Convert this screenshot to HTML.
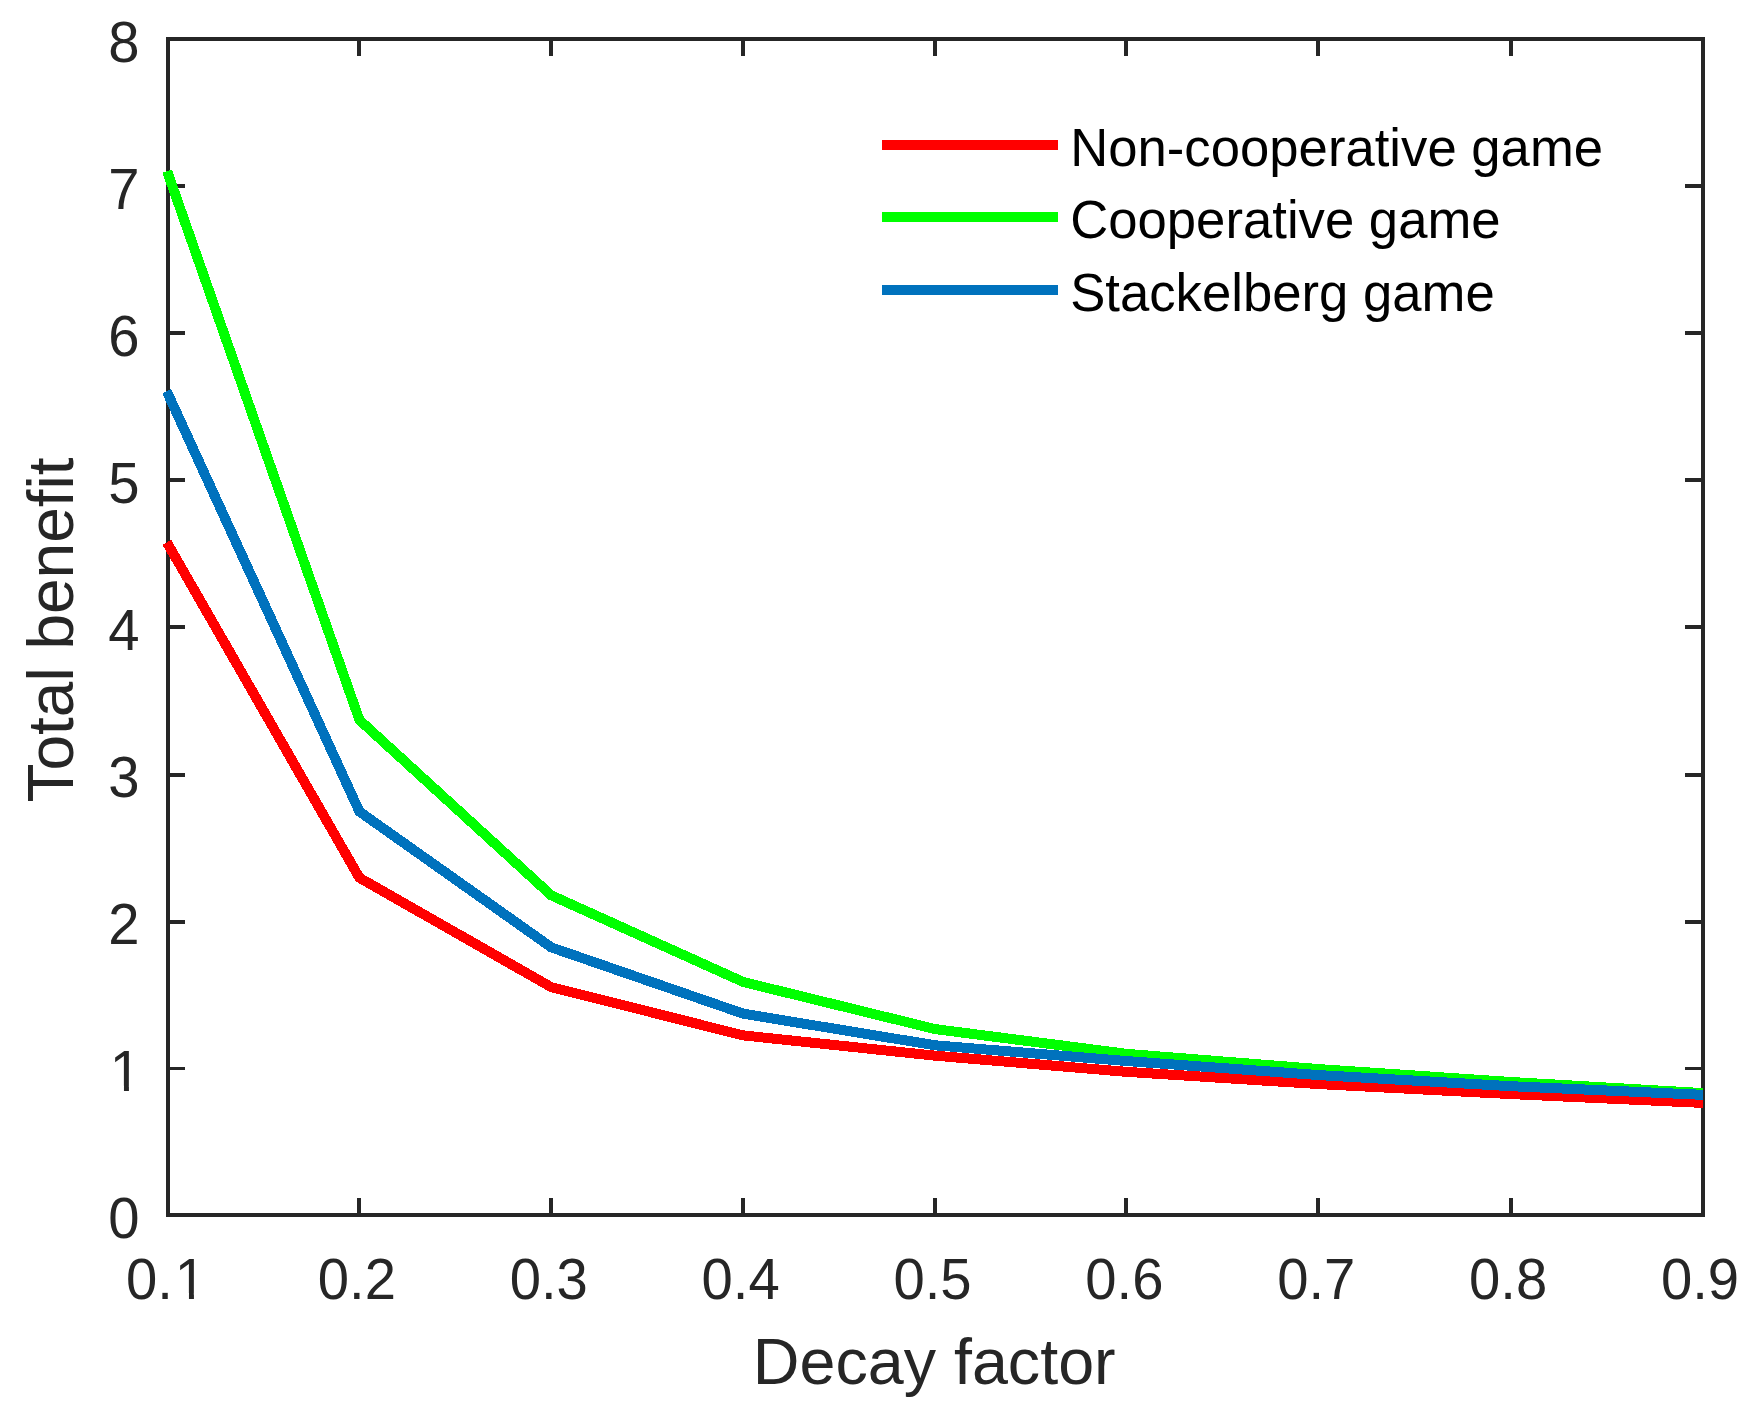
<!DOCTYPE html>
<html lang="en"><head><meta charset="utf-8"><title>Total benefit vs decay factor</title>
<style>html,body{margin:0;padding:0;background:#fff}svg{display:block}text{font-family:"Liberation Sans",Arial,sans-serif}</style>
</head><body>
<svg width="1749" height="1410" viewBox="0 0 1749 1410">
<rect x="0" y="0" width="1749" height="1410" fill="#ffffff"/>
<g stroke="#262626" stroke-width="4" fill="none" stroke-linecap="butt">
<rect x="168" y="39" width="1535" height="1176"/>
<line x1="359" y1="1215" x2="359" y2="1198"/>
<line x1="359" y1="39" x2="359" y2="56"/>
<line x1="551" y1="1215" x2="551" y2="1198"/>
<line x1="551" y1="39" x2="551" y2="56"/>
<line x1="743" y1="1215" x2="743" y2="1198"/>
<line x1="743" y1="39" x2="743" y2="56"/>
<line x1="935" y1="1215" x2="935" y2="1198"/>
<line x1="935" y1="39" x2="935" y2="56"/>
<line x1="1126" y1="1215" x2="1126" y2="1198"/>
<line x1="1126" y1="39" x2="1126" y2="56"/>
<line x1="1318" y1="1215" x2="1318" y2="1198"/>
<line x1="1318" y1="39" x2="1318" y2="56"/>
<line x1="1511" y1="1215" x2="1511" y2="1198"/>
<line x1="1511" y1="39" x2="1511" y2="56"/>
<line x1="168" y1="1068.5" x2="185" y2="1068.5" stroke-width="3"/>
<line x1="1703" y1="1068.5" x2="1685" y2="1068.5" stroke-width="3"/>
<line x1="168" y1="922" x2="185" y2="922"/>
<line x1="1703" y1="922" x2="1685" y2="922"/>
<line x1="168" y1="775" x2="185" y2="775"/>
<line x1="1703" y1="775" x2="1685" y2="775"/>
<line x1="168" y1="627" x2="185" y2="627"/>
<line x1="1703" y1="627" x2="1685" y2="627"/>
<line x1="168" y1="480" x2="185" y2="480"/>
<line x1="1703" y1="480" x2="1685" y2="480"/>
<line x1="168" y1="333" x2="185" y2="333"/>
<line x1="1703" y1="333" x2="1685" y2="333"/>
<line x1="168" y1="186" x2="185" y2="186"/>
<line x1="1703" y1="186" x2="1685" y2="186"/>
</g>
<clipPath id="box"><rect x="163" y="34" width="1545" height="1186"/></clipPath>
<g clip-path="url(#box)">
<polyline points="166.85,542.37 359.44,877.80 551.38,987.20 743.31,1035.40 935.25,1055.70 1127.19,1071.90 1319.12,1084.10 1511.06,1094.10 1703.00,1102.90" fill="none" stroke="#ff0000" stroke-width="10" stroke-linejoin="miter" stroke-linecap="butt" shape-rendering="crispEdges"/>
<polyline points="167.07,171.07 359.44,720.00 551.38,895.40 743.31,982.00 935.25,1029.10 1127.19,1053.90 1319.12,1069.10 1511.06,1082.00 1703.00,1093.10" fill="none" stroke="#00ff00" stroke-width="10" stroke-linejoin="miter" stroke-linecap="butt" shape-rendering="crispEdges"/>
<polyline points="166.67,391.08 359.44,811.60 551.38,947.40 743.31,1013.70 935.25,1045.30 1127.19,1061.10 1319.12,1075.10 1511.06,1086.20 1703.00,1094.85" fill="none" stroke="#0072bd" stroke-width="10" stroke-linejoin="miter" stroke-linecap="butt" shape-rendering="crispEdges"/>
</g>
<g fill="#262626" font-size="58.0">
<clipPath id="c1x"><rect x="0" y="1218.5" width="1749" height="74.47"/><rect x="0" y="1292.0" width="178.10" height="80"/><rect x="188.96" y="1292.0" width="4.97" height="80"/></clipPath>
<g clip-path="url(#c1x)"><text transform="translate(166.00,1298.5) scale(0.97,1)" text-anchor="middle">0.<tspan dx="2.06">1</tspan></text></g>
<text transform="translate(356.88,1298.5) scale(0.97,1)" text-anchor="middle">0.2</text>
<text transform="translate(548.75,1298.5) scale(0.97,1)" text-anchor="middle">0.3</text>
<text transform="translate(740.62,1298.5) scale(0.97,1)" text-anchor="middle">0.4</text>
<text transform="translate(932.50,1298.5) scale(0.97,1)" text-anchor="middle">0.5</text>
<text transform="translate(1124.38,1298.5) scale(0.97,1)" text-anchor="middle">0.6</text>
<text transform="translate(1316.25,1298.5) scale(0.97,1)" text-anchor="middle">0.7</text>
<text transform="translate(1508.12,1298.5) scale(0.97,1)" text-anchor="middle">0.8</text>
<text transform="translate(1700.00,1298.5) scale(0.97,1)" text-anchor="middle">0.9</text>
<text transform="translate(139.6,1238.20) scale(0.97,1)" text-anchor="end">0</text>
<clipPath id="c1y"><rect x="0" y="1011.2" width="1749" height="74.47"/><rect x="0" y="1084.7" width="113.10" height="80"/><rect x="123.96" y="1084.7" width="4.97" height="80"/></clipPath>
<g clip-path="url(#c1y)"><text transform="translate(141.1,1091.20) scale(0.97,1)" text-anchor="end">1</text></g>
<text transform="translate(139.6,944.20) scale(0.97,1)" text-anchor="end">2</text>
<text transform="translate(139.6,797.20) scale(0.97,1)" text-anchor="end">3</text>
<text transform="translate(139.6,650.20) scale(0.97,1)" text-anchor="end">4</text>
<text transform="translate(139.6,503.20) scale(0.97,1)" text-anchor="end">5</text>
<text transform="translate(139.6,356.20) scale(0.97,1)" text-anchor="end">6</text>
<text transform="translate(139.6,209.20) scale(0.97,1)" text-anchor="end">7</text>
<text transform="translate(139.6,62.20) scale(0.97,1)" text-anchor="end">8</text>
</g>
<text transform="translate(934.2,1383.5) scale(1.01,1)" text-anchor="middle" font-size="64" fill="#262626">Decay factor</text>
<text transform="translate(72.8,630) rotate(-90)" text-anchor="middle" font-size="64" fill="#262626">Total benefit</text>
<line x1="882" y1="145.0" x2="1058" y2="145.0" stroke="#ff0000" stroke-width="10" shape-rendering="crispEdges"/>
<text transform="translate(1070.2,165.6) scale(0.972,1)" font-size="54.2" fill="#000000">Non-cooperative game</text>
<line x1="882" y1="217.0" x2="1058" y2="217.0" stroke="#00ff00" stroke-width="10" shape-rendering="crispEdges"/>
<text transform="translate(1070.2,238.1) scale(0.972,1)" font-size="54.2" fill="#000000">Cooperative game</text>
<line x1="882" y1="290.0" x2="1058" y2="290.0" stroke="#0072bd" stroke-width="10" shape-rendering="crispEdges"/>
<text transform="translate(1070.2,310.6) scale(0.972,1)" font-size="54.2" fill="#000000">Stackelberg game</text>
</svg>
</body></html>
